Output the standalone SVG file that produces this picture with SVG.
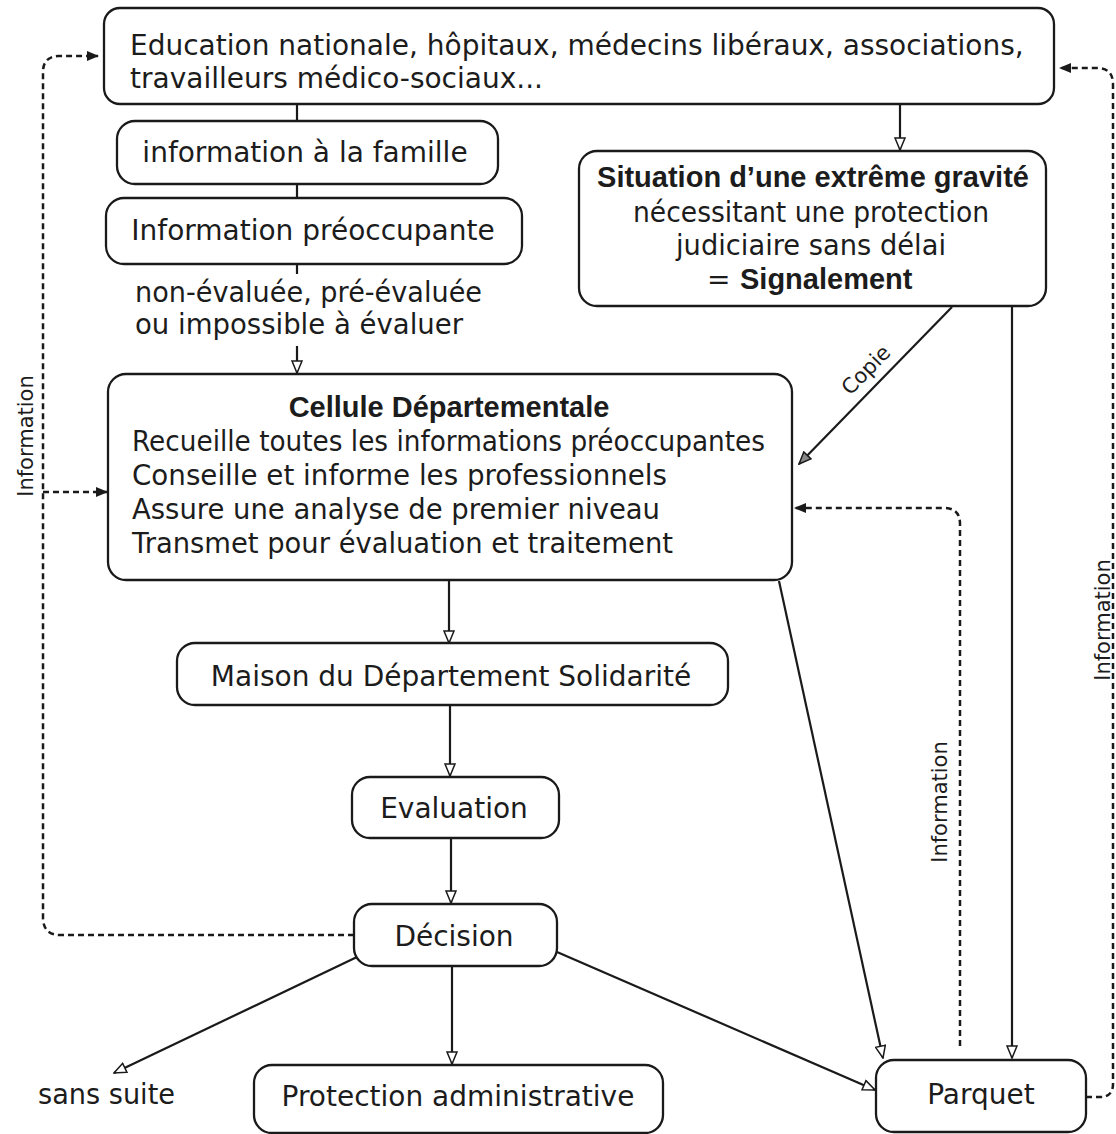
<svg xmlns="http://www.w3.org/2000/svg" width="1116" height="1134" viewBox="0 0 1116 1134">
<defs>
<style>
.box{fill:#fff;stroke:#1a1a1a;stroke-width:2.3}
.t{font-family:"DejaVu Sans","Liberation Sans",sans-serif;font-size:28px;fill:#1c1c1c}
.b{font-family:"Liberation Sans",Arial,sans-serif;font-weight:bold;font-size:29px;fill:#1c1c1c}
.lbl{font-family:"DejaVu Sans","Liberation Sans",sans-serif;font-size:21px;fill:#1c1c1c}
.c{fill:none;stroke:#1a1a1a;stroke-width:2.2}
.d{fill:none;stroke:#1a1a1a;stroke-width:2.5;stroke-dasharray:6 4}
</style>
<marker id="hol" viewBox="0 0 14 12" markerWidth="14" markerHeight="12" refX="13" refY="6" orient="auto" markerUnits="userSpaceOnUse">
<path d="M1,1 L13,6 L1,11 Z" fill="#fff" stroke="#1a1a1a" stroke-width="1.5"/>
</marker>
<marker id="gry" viewBox="0 0 14 12" markerWidth="14" markerHeight="12" refX="13" refY="6" orient="auto" markerUnits="userSpaceOnUse">
<path d="M1,1 L13,6 L1,11 Z" fill="#888" stroke="#1a1a1a" stroke-width="1.5"/>
</marker>
<marker id="fil" viewBox="0 0 12 10" markerWidth="12" markerHeight="10" refX="11" refY="5" orient="auto" markerUnits="userSpaceOnUse">
<path d="M0,0 L12,5 L0,10 Z" fill="#1a1a1a"/>
</marker>
</defs>
<rect width="1116" height="1134" fill="#fff"/>

<g id="connectors">
<path class="c" d="M297,104 V121"/>
<path class="c" d="M297,184 V198"/>
<path class="c" d="M297,264 V274"/>
<path class="c" d="M297,346 V373" marker-end="url(#hol)"/>
<path class="c" d="M900,104 V150" marker-end="url(#hol)"/>
<path class="c" d="M952,307 L799,464" marker-end="url(#gry)"/>
<path class="c" d="M1012,306 V1058" marker-end="url(#hol)"/>
<path class="c" d="M779,581 L883,1058" marker-end="url(#hol)"/>
<path class="c" d="M449,580 V643" marker-end="url(#hol)"/>
<path class="c" d="M450,705 V776" marker-end="url(#hol)"/>
<path class="c" d="M451,838 V903" marker-end="url(#hol)"/>
<path class="c" d="M452,966 V1064" marker-end="url(#hol)"/>
<path class="c" d="M357,957 L114,1073" marker-end="url(#hol)"/>
<path class="c" d="M557,952 L875,1090" marker-end="url(#hol)"/>
<path class="d" d="M354,935 H60 Q44,935 43,919 V72 Q43,57 58,56 H98" marker-end="url(#fil)"/>
<path class="d" d="M43,492 H107" marker-end="url(#fil)"/>
<path class="d" d="M960,1046 V524 Q960,508 944,508 H795" marker-end="url(#fil)"/>
<path class="d" d="M1086,1097 H1100 Q1113,1097 1113,1084 V84 Q1113,68 1097,68 H1060" marker-end="url(#fil)"/>
<text class="lbl" transform="translate(33,436) rotate(-90)" text-anchor="middle">Information</text>
<text class="lbl" transform="translate(947,802) rotate(-90)" text-anchor="middle">Information</text>
<text class="lbl" transform="translate(1110,620) rotate(-90)" text-anchor="middle">Information</text>
<text class="lbl" transform="translate(871,375) rotate(-45.7)" text-anchor="middle">Copie</text>
</g>

<g id="n-top">
<rect class="box" x="104" y="8" width="950" height="96" rx="16"/>
<text class="t" x="130" y="55">Education nationale, hôpitaux, médecins libéraux, associations,</text>
<text class="t" x="130" y="88">travailleurs médico-sociaux...</text>
</g>
<g id="n-famille">
<rect class="box" x="117" y="121" width="381" height="63" rx="18"/>
<text class="t" x="305" y="162" text-anchor="middle">information à la famille</text>
</g>
<g id="n-ip">
<rect class="box" x="106" y="198" width="416" height="66" rx="18"/>
<text class="t" x="313" y="240" text-anchor="middle">Information préoccupante</text>
</g>
<g id="n-ip-note">
<text class="t" x="135" y="302" textLength="347" lengthAdjust="spacingAndGlyphs">non-évaluée, pré-évaluée</text>
<text class="t" x="135" y="334" textLength="328" lengthAdjust="spacingAndGlyphs">ou impossible à évaluer</text>
</g>
<g id="n-situation">
<rect class="box" x="579" y="151" width="467" height="155" rx="18"/>
<text class="b" x="813" y="187" text-anchor="middle">Situation d’une extrême gravité</text>
<text class="t" x="633" y="222" textLength="356" lengthAdjust="spacingAndGlyphs">nécessitant une protection</text>
<text class="t" x="676" y="255" textLength="270" lengthAdjust="spacingAndGlyphs">judiciaire sans délai</text>
<text class="t" x="707" y="289">=</text>
<text class="b" x="740" y="289">Signalement</text>
</g>
<g id="n-cellule">
<rect class="box" x="108" y="374" width="684" height="206" rx="18"/>
<text class="b" x="449" y="417" text-anchor="middle">Cellule Départementale</text>
<text class="t" x="132" y="451" textLength="633" lengthAdjust="spacingAndGlyphs">Recueille toutes les informations préoccupantes</text>
<text class="t" x="132" y="485" textLength="535" lengthAdjust="spacingAndGlyphs">Conseille et informe les professionnels</text>
<text class="t" x="132" y="519" textLength="528" lengthAdjust="spacingAndGlyphs">Assure une analyse de premier niveau</text>
<text class="t" x="132" y="553" textLength="541" lengthAdjust="spacingAndGlyphs">Transmet pour évaluation et traitement</text>
</g>
<g id="n-maison">
<rect class="box" x="177" y="643" width="551" height="62" rx="18"/>
<text class="t" x="451" y="686" text-anchor="middle">Maison du Département Solidarité</text>
</g>
<g id="n-evaluation">
<rect class="box" x="352" y="777" width="207" height="61" rx="18"/>
<text class="t" x="454" y="818" text-anchor="middle">Evaluation</text>
</g>
<g id="n-decision">
<rect class="box" x="354" y="904" width="203" height="62" rx="18"/>
<text class="t" x="454" y="946" text-anchor="middle">Décision</text>
</g>
<g id="n-sans-suite">
<text class="t" x="38" y="1104" textLength="137" lengthAdjust="spacingAndGlyphs">sans suite</text>
</g>
<g id="n-protection">
<rect class="box" x="254" y="1065" width="409" height="68" rx="18"/>
<text class="t" x="458" y="1106" text-anchor="middle">Protection administrative</text>
</g>
<g id="n-parquet">
<rect class="box" x="876" y="1060" width="210" height="72" rx="18"/>
<text class="t" x="981" y="1104" text-anchor="middle">Parquet</text>
</g>
</svg>
